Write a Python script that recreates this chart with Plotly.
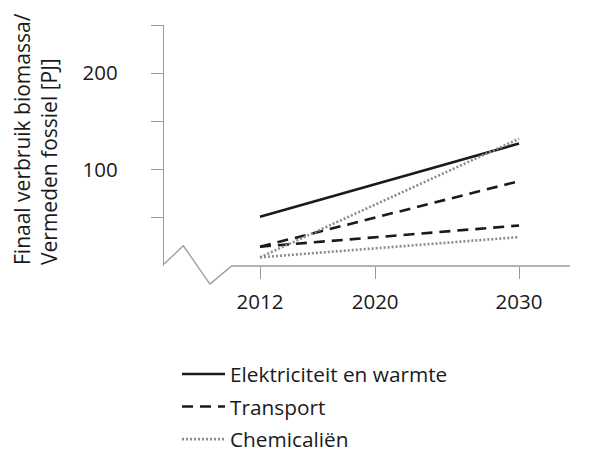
import plotly.graph_objects as go

# Data
years = [2012, 2030]
elektriciteit = [51, 127]
transport_hoog = [20, 88]
transport_laag = [20, 42]
chemicalien_hoog = [9, 132]
chemicalien_laag = [9, 30]

x_ticks = [2012, 2020, 2030]
y_ticks = [50, 100, 150, 200, 250]
y_ticktext = ["", "100", "", "200", ""]

series_names = ["Elektriciteit en warmte", "Transport", "Chemicaliën"]

FONT = "Open Sans"
AXIS_GREY = "#9a9a9a"
TEXT = "#1a1a1a"

fig = go.Figure()

fig.add_trace(go.Scatter(
    x=years, y=elektriciteit, mode="lines", name=series_names[0],
    line=dict(color="#1a1a1a", width=2.6, dash="solid"), legendgroup="a"))
fig.add_trace(go.Scatter(
    x=years + [None] + years, y=transport_hoog + [None] + transport_laag,
    mode="lines", name=series_names[1],
    line=dict(color="#1a1a1a", width=2.6, dash="11px,7px"), legendgroup="b"))
fig.add_trace(go.Scatter(
    x=years + [None] + years, y=chemicalien_hoog + [None] + chemicalien_laag,
    mode="lines", name=series_names[2],
    line=dict(color="#8c8c8c", width=2.6, dash="2px,2px"), legendgroup="c"))

# plot area in page pixels: x 164..570, y 25..266 (page has an 8px body margin)
fig.update_layout(
    width=592, height=454,
    margin=dict(l=156, r=30, t=17, b=196, pad=0, autoexpand=False),
    paper_bgcolor="white", plot_bgcolor="white",
    font=dict(family=FONT, size=20, color=TEXT),
    showlegend=True,
    legend=dict(
        x=(177 - 164) / 406, xanchor="left",
        y=(266 - 354) / 241, yanchor="top",
        font=dict(family=FONT, size=20.8, color=TEXT),
        traceorder="grouped", tracegroupgap=2.5, itemwidth=43,
        bgcolor="rgba(0,0,0,0)",
    ),
    xaxis=dict(
        range=[2005.33, 2033.54],
        tickvals=x_ticks, ticktext=[str(v) for v in x_ticks],
        showgrid=False, zeroline=False, showline=False,
        ticks="outside", ticklen=12, tickwidth=1.3, tickcolor=AXIS_GREY,
        ticklabelstandoff=5,
        tickfont=dict(family=FONT, size=20.5, color=TEXT),
    ),
    yaxis=dict(
        range=[0, 250],
        tickvals=y_ticks, ticktext=y_ticktext,
        showgrid=False, zeroline=False,
        showline=True, linecolor=AXIS_GREY, linewidth=1.3,
        ticks="outside", ticklen=12, tickwidth=1.3, tickcolor=AXIS_GREY,
        ticklabelstandoff=29,
        tickfont=dict(family=FONT, size=20.5, color=TEXT),
    ),
    annotations=[dict(
        text="Finaal verbruik biomassa/<br>Vermeden fossiel [PJ]",
        xref="paper", yref="paper",
        x=(35 - 164) / 406, y=(266 - 139) / 241,
        xanchor="center", yanchor="middle",
        textangle=-90, align="left", showarrow=False,
        font=dict(family=FONT, size=21, color=TEXT),
    )],
    shapes=[
        # axis break zigzag
        dict(type="path", xref="paper", yref="paper",
             path="M 0,0.008 L 0.0475,0.084 L 0.1133,-0.0747 L 0.1667,0.0 L 1,0.0",
             line=dict(color=AXIS_GREY, width=1.3)),
    ],
)

fig.write_html("out.html")
